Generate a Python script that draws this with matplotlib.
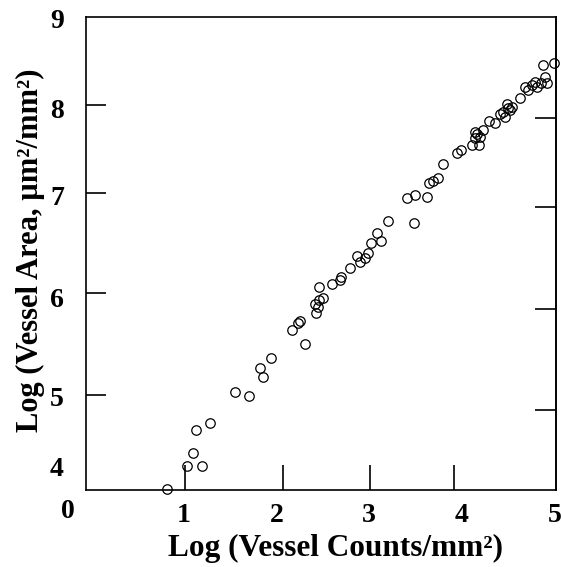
import matplotlib
matplotlib.use("Agg")
import matplotlib.pyplot as plt

# log vessel counts / mm^2  vs  log vessel area (um^2/mm^2)
log_counts = [0.82, 1.04, 1.20, 1.10, 1.13, 1.29, 1.55, 1.71, 1.82, 1.86,
              1.94, 2.17, 2.23, 2.26, 2.31, 2.43, 2.45, 2.42, 2.46, 2.50,
              2.46, 2.60, 2.69, 2.70, 2.80, 2.87, 2.90, 2.96, 2.99, 3.02,
              3.09, 3.13, 3.21, 3.48, 3.41, 3.50, 3.63, 3.65, 3.69, 3.74,
              3.80, 3.95, 3.99, 4.11, 4.19, 4.14, 4.17, 4.20, 4.14, 4.23,
              4.29, 4.36, 4.41, 4.45, 4.47, 4.50, 4.54, 4.49, 4.52, 4.63,
              4.72, 4.68, 4.76, 4.81, 4.79, 4.85, 4.90, 4.92, 4.88, 5.00]
log_area = [3.86, 4.11, 4.11, 4.25, 4.50, 4.58, 4.92, 4.87, 5.18, 5.08,
            5.29, 5.59, 5.67, 5.69, 5.44, 5.78, 5.84, 5.88, 5.92, 5.94,
            6.06, 6.09, 6.14, 6.17, 6.27, 6.40, 6.33, 6.38, 6.43, 6.54,
            6.65, 6.56, 6.78, 6.76, 7.03, 7.07, 7.04, 7.20, 7.22, 7.25,
            7.40, 7.52, 7.56, 7.61, 7.61, 7.69, 7.73, 7.70, 7.75, 7.77,
            7.87, 7.85, 7.95, 7.97, 7.92, 8.01, 8.02, 8.06, 7.99, 8.12,
            8.21, 8.24, 8.26, 8.24, 8.30, 8.29, 8.35, 8.29, 8.48, 8.50]

x_tick_labels = ["1", "2", "3", "4", "5"]
y_tick_labels = ["9", "8", "7", "6", "5", "4"]

FONT = "Liberation Serif"
TICK_FS = 20

fig = plt.figure(figsize=(5.61, 5.67), dpi=100)
ax = fig.add_axes([86 / 561, 1 - 490 / 567, 470 / 561, 473 / 567])

ax.plot(log_counts, log_area, "o", ms=6.8, mfc="none", mec="black", mew=0.9,
        clip_on=False)

ax.set_xlim(-0.053, 5.017)
ax.set_ylim(3.848, 9.006)

for s in ax.spines.values():
    s.set_linewidth(1.2)

# label positions and tick-mark positions do not line up in the original
ax.set_xticks([1, 2, 3, 4, 5], labels=x_tick_labels)
ax.set_yticks([8.99, 8.01, 7.06, 5.95, 4.87, 4.10], labels=y_tick_labels)
ax.tick_params(which="major", length=0, labelsize=TICK_FS)
ax.tick_params(axis="x", which="major", pad=9)
ax.tick_params(axis="y", which="major", pad=16)
ax.set_xticks([1.02, 2.07, 3.01, 3.92], minor=True)
ax.set_yticks([8.05, 7.09, 6.00, 4.88], minor=True)
ax.tick_params(which="minor", direction="in", width=1.2)
ax.tick_params(axis="x", which="minor", length=18)
ax.tick_params(axis="y", which="minor", length=14.5)
for lab in ax.get_xticklabels() + ax.get_yticklabels():
    lab.set_fontfamily(FONT)
    lab.set_fontweight("bold")

right = ax.secondary_yaxis("right")
right.set_yticks([7.90, 6.93, 5.82, 4.72], labels=[])
right.tick_params(direction="in", length=15, width=1.2)
right.spines["right"].set_linewidth(1.2)

# stray origin label, left of the axis
ax.text(-0.245, 3.61, "0", ha="center", va="center", fontsize=TICK_FS,
        fontfamily=FONT, fontweight="bold", clip_on=False)

fig.text(335 / 561, 1 - 548 / 567, "Log (Vessel Counts/mm\u00b2)",
         ha="center", va="center", fontsize=22.5, fontfamily=FONT,
         fontweight="bold")
fig.text(30 / 561, 1 - 250 / 567, "Log (Vessel Area, \u00b5m\u00b2/mm\u00b2)",
         ha="center", va="center", rotation=90, fontsize=22,
         fontfamily=FONT, fontweight="bold")

fig.savefig("out.png", dpi=100)
